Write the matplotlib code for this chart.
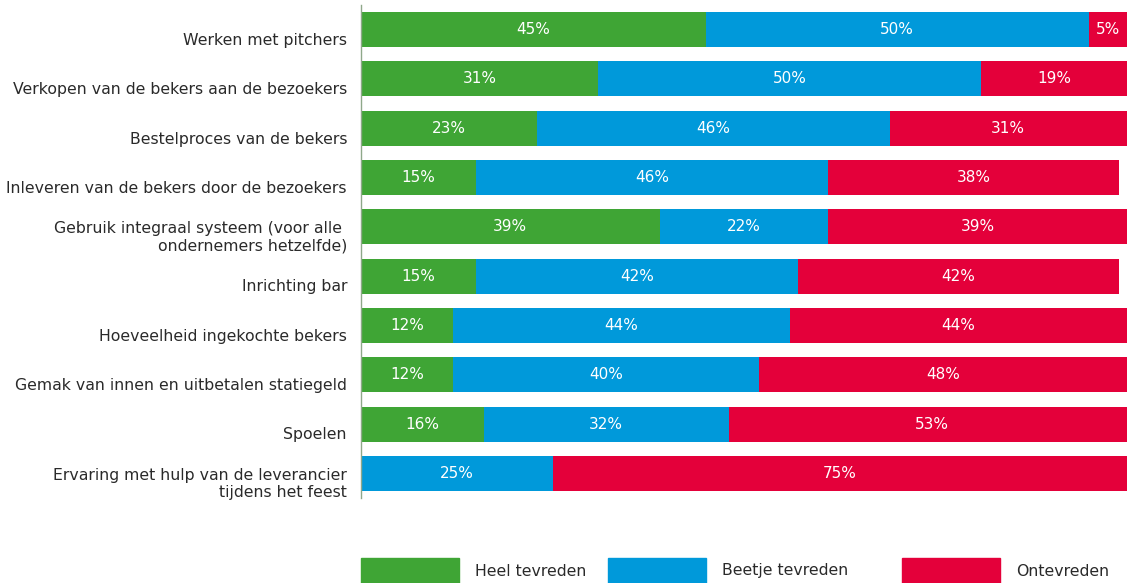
import matplotlib.pyplot as plt
from matplotlib.patches import Rectangle
import numpy as np

plt.rcParams['font.family'] = ['DejaVu Sans']

categories = [
    'Werken met pitchers',
    'Verkopen van de bekers aan de bezoekers',
    'Bestelproces van de bekers',
    'Inleveren van de bekers door de bezoekers',
    'Gebruik integraal systeem (voor alle \nondernemers hetzelfde)',
    'Inrichting bar',
    'Hoeveelheid ingekochte bekers',
    'Gemak van innen en uitbetalen statiegeld',
    'Spoelen',
    'Ervaring met hulp van de leverancier\ntijdens het feest',
]
heel = [45, 31, 23, 15, 39, 15, 12, 12, 16, 0]
beetje = [50, 50, 46, 46, 22, 42, 44, 40, 32, 25]
ontevreden = [5, 19, 31, 38, 39, 42, 44, 48, 53, 75]

series = ['Heel tevreden', 'Beetje tevreden', 'Ontevreden']
colors = ['#3fa535', '#0099da', '#e4003a']

fig = plt.figure(figsize=(11.27, 5.83), dpi=100)
ax = fig.add_axes([361 / 1127, 1 - 498 / 583, 1 - 361 / 1127, 493 / 583])

y = np.arange(len(categories))
left = np.zeros(len(categories))
for vals, col in zip([heel, beetje, ontevreden], colors):
    vals = np.array(vals, dtype=float)
    ax.barh(y, vals, left=left, height=0.71, color=col, edgecolor='none')
    for yi, l, v in zip(y, left, vals):
        if v > 0:
            ax.text(l + v / 2, yi, f'{int(v)}%', ha='center', va='center',
                    color='white', fontsize=11)
    left += vals

ax.set_xlim(0, 100)
ax.set_ylim(len(categories) - 0.5, -0.5)
ax.set_xticks([])
ax.set_yticks([])
for s in ['top', 'right', 'bottom']:
    ax.spines[s].set_visible(False)
ax.spines['left'].set_color('#8fa88a')
ax.spines['left'].set_linewidth(1)

# category names, slightly below the bar centre
for yi, name in zip(y, categories):
    ax.annotate(name, xy=(0, yi + 0.22), xycoords=('axes fraction', 'data'),
                xytext=(-14, 0), textcoords='offset pixels',
                ha='right', va='center', fontsize=11.3, color='#2a2a2a',
                linespacing=1.2)

# legend along the bottom
leg_x = [361, 608, 902]
for x0, name, col in zip(leg_x, series, colors):
    fig.patches.append(Rectangle((x0 / 1127, 0), 98 / 1127, 25 / 583,
                                 transform=fig.transFigure, color=col))
    fig.text((x0 + 114) / 1127, 1 - 571 / 583, name, ha='left', va='center',
             fontsize=11.3, color='#2a2a2a')

fig.savefig('out.png', dpi=100)
